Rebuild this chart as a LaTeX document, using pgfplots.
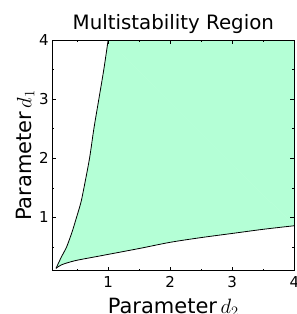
\documentclass[border=0pt]{standalone}
\usepackage{pgfplots}
\pgfplotsset{compat=1.18}
\usepgfplotslibrary{fillbetween}
\usepackage{fontspec}
\setmainfont{DejaVu Sans}
\definecolor{mint}{RGB}{180,255,214}
\begin{document}
\begin{tikzpicture}
\begin{axis}[
  at={(0,0)}, anchor=south west,
  scale only axis, width=242pt, height=230.7pt,
  xmin=0.1, xmax=4, ymin=0.1, ymax=4,
  xtick={1,2,3,4}, ytick={1,2,3,4},
  minor xtick={0.5,1.5,2.5,3.5}, minor ytick={0.5,1.5,2.5,3.5},
  tick align=inside,
  major tick length=4pt, minor tick length=2pt,
  tick style={black, line width=0.6pt},
  axis line style={line width=0.9pt},
  axis on top,
  /pgf/number format/assume math mode=true,
  ticklabel style={font=\fontsize{15}{18}\selectfont},
  xticklabel style={yshift=-2pt},
  title={Multistability Region},
  title style={font=\fontsize{19.8}{23}\selectfont, at={(0.5,1.019)}, anchor=base},
  xlabel={Parameter\,$d_2$},
  ylabel={Parameter\,$d_1$},
  label style={font=\fontsize{21}{24}\selectfont},
  xlabel style={at={(0.5,-0.184)}, anchor=base},
  ylabel style={at={(-0.0868,0.5)}, anchor=base},
]
\addplot[name path=U, draw=none, smooth] coordinates {
  (0.16,0.14) (0.25,0.34) (0.33,0.5) (0.42,0.76) (0.49,1.0) (0.56,1.25) (0.61,1.5) (0.70,2) (0.77,2.5) (0.85,3) (0.93,3.5) (1.0,4)
};
\addplot[name path=L, draw=none, smooth] coordinates {
  (0.16,0.14) (0.25,0.2) (0.47,0.27) (0.87,0.35) (1.5,0.475) (2,0.58) (2.5,0.66) (3,0.73) (3.5,0.80) (4,0.86)
};
\addplot[fill=mint, draw=none] fill between[of=U and L];
\addplot[fill=mint, draw=mint, line width=0.6pt] coordinates {(1.0,4) (4,4) (4,0.86) (1.0,4)};
\addplot[black, line width=0.8pt, smooth] coordinates {
  (0.16,0.14) (0.25,0.34) (0.33,0.5) (0.42,0.76) (0.49,1.0) (0.56,1.25) (0.61,1.5) (0.70,2) (0.77,2.5) (0.85,3) (0.93,3.5) (1.0,4)
};
\addplot[black, line width=0.8pt, smooth] coordinates {
  (0.16,0.14) (0.25,0.2) (0.47,0.27) (0.87,0.35) (1.5,0.475) (2,0.58) (2.5,0.66) (3,0.73) (3.5,0.80) (4,0.86)
};
\end{axis}
\pgfresetboundingbox
\path[use as bounding box] (-52.3pt,-43.3pt) rectangle (244.7pt,270.7pt);
\end{tikzpicture}
\end{document}
